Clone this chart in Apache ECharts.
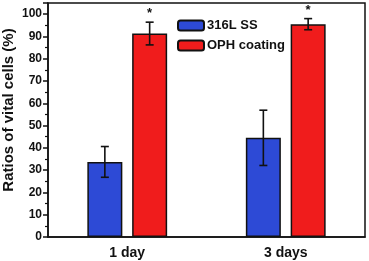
<!DOCTYPE html>
<html><head><meta charset="utf-8">
<script src="https://cdn.jsdelivr.net/npm/echarts@6/dist/echarts.min.js"></script>
<style>html,body{margin:0;padding:0;background:#fff}#c{width:369px;height:261px}</style>
</head><body><div id="c"></div>
<script>
const categories = ['1 day', '3 days'];
const seriesNames = ['316L SS', 'OPH coating'];
const ssValues = [33.7, 44.5];
const ssErrors = [6.9, 12.4];
const ophValues = [91.3, 95.5];
const ophErrors = [5.1, 2.5];
const ophStars = ['*', '*'];
const yTicks = [0, 10, 20, 30, 40, 50, 60, 70, 80, 90, 100];
const yTitle = 'Ratios of vital cells (%)';

const BAR_W = 35, GAP = 0.28;
const font = 'Liberation Sans, Arial, sans-serif';

function errSeries(vals, errs, dir, stars) {
  return {
    type: 'custom', silent: true, z: 10,
    data: vals.map((v, i) => [i, v, errs[i], stars ? stars[i] : '']),
    renderItem: function (params, api) {
      const i = api.value(0), v = api.value(1), e = api.value(2);
      const c = api.coord([i, v]);
      const off = dir * (BAR_W + GAP * BAR_W) / 2;
      const x = c[0] + off;
      const top = api.coord([i, v + e])[1];
      const bot = api.coord([i, v - e])[1];
      const st = { stroke: '#111', lineWidth: 1.6 };
      const children = [
        { type: 'line', shape: { x1: x, y1: top, x2: x, y2: bot }, style: st },
        { type: 'line', shape: { x1: x - 4, y1: top, x2: x + 4, y2: top }, style: st },
        { type: 'line', shape: { x1: x - 4, y1: bot, x2: x + 4, y2: bot }, style: st }
      ];
      const s = api.value(3);
      if (s) children.push({ type: 'text', style: { text: s, x: x, y: top - 2, textAlign: 'center', textVerticalAlign: 'bottom', font: 'bold 13px ' + font, fill: '#111' } });
      return { type: 'group', children: children };
    }
  };
}

const chart = echarts.init(document.getElementById('c'), null, { renderer: 'canvas' });
chart.setOption({
  animation: false,
  grid: { left: 48, right: 4, top: 3, bottom: 24, show: true, borderColor: '#111', borderWidth: 1.5,
    containLabel: false, outerBoundsMode: 'none' },
  graphic: [{
    type: 'text', x: 9, y: 110, rotation: Math.PI / 2,
    style: { text: yTitle, textAlign: 'center', textVerticalAlign: 'middle',
      font: 'bold 15px ' + font, fill: '#111' }
  }],
  legend: {
    orient: 'vertical', left: 172, top: 14, itemWidth: 26, itemHeight: 10, itemGap: 7,
    textStyle: { fontFamily: font, fontWeight: 'bold', fontSize: 13, color: '#111', padding: [0, 0, 0, -2] },
    data: seriesNames
  },
  xAxis: {
    type: 'category', data: categories,
    axisLine: { lineStyle: { color: '#111', width: 1.5 } },
    axisTick: { show: false },
    axisLabel: { fontFamily: font, fontWeight: 'bold', fontSize: 14, color: '#111', margin: 9 }
  },
  yAxis: {
    type: 'value', min: 0, max: 105, interval: 10,
    axisLine: { show: true, lineStyle: { color: '#111', width: 1.5 } },
    axisTick: { show: true, length: 5, lineStyle: { color: '#111', width: 1.5 } },
    minorTick: { show: true, splitNumber: 2, length: 3, lineStyle: { color: '#111', width: 1.2 } },
    splitLine: { show: false },
    axisLabel: { fontFamily: font, fontWeight: 'bold', fontSize: 12, color: '#111', margin: 6,
      formatter: v => yTicks.includes(v) ? String(v) : '' }
  },
  series: [
    { name: seriesNames[0], type: 'bar', data: ssValues, barWidth: BAR_W, barGap: '28%',
      itemStyle: { color: '#2d4ad6', borderColor: '#111', borderWidth: 1.5 } },
    { name: seriesNames[1], type: 'bar', data: ophValues, barWidth: BAR_W, barGap: '28%',
      itemStyle: { color: '#f01c1c', borderColor: '#111', borderWidth: 1.5 } },
    errSeries(ssValues, ssErrors, -1, null),
    errSeries(ophValues, ophErrors, 1, ophStars)
  ]
});
</script></body></html>
